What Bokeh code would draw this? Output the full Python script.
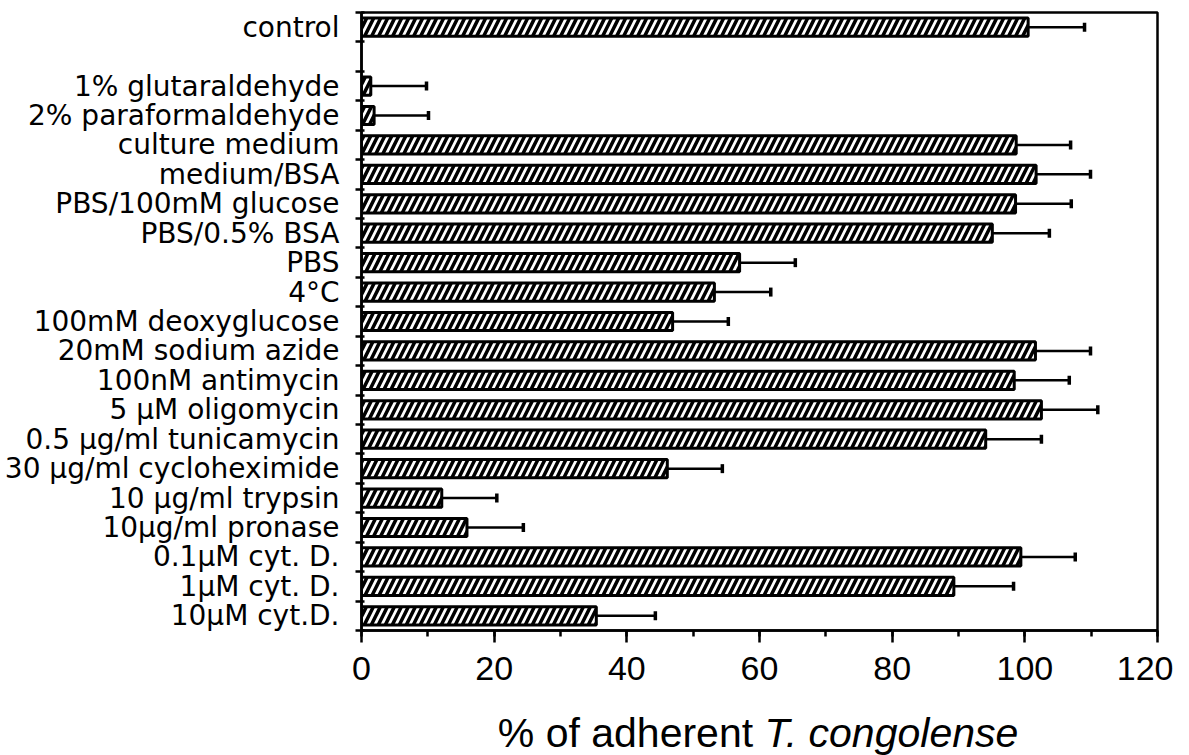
import math
from bokeh.plotting import figure
from bokeh.layouts import column
from bokeh.models import Range1d, FixedTicker, SingleIntervalTicker, Label, ColumnDataSource
from bokeh.embed import file_html
from bokeh.resources import INLINE

# ---- data ----
labels = ["control", "1% glutaraldehyde", "2% paraformaldehyde", "culture medium",
          "medium/BSA", "PBS/100mM glucose", "PBS/0.5% BSA", "PBS", "4°C",
          "100mM deoxyglucose", "20mM sodium azide", "100nM antimycin",
          "5 µM oligomycin", "0.5 µg/ml tunicamycin", "30 µg/ml cycloheximide",
          "10 µg/ml trypsin", "10µg/ml pronase", "0.1µM cyt. D.", "1µM cyt. D.",
          "10µM cyt.D."]
values = [100.5, 1.4, 1.9, 98.7, 101.7, 98.6, 95.1, 57.0, 53.2, 46.9,
          101.6, 98.4, 102.5, 94.1, 46.1, 12.1, 15.9, 99.4, 89.3, 35.4]
errors = [8.5, 8.4, 8.2, 8.2, 8.2, 8.4, 8.6, 8.4, 8.5, 8.4,
          8.3, 8.3, 8.5, 8.4, 8.3, 8.3, 8.5, 8.2, 9.0, 8.9]
gap_after = ["control"]          # an empty slot follows these categories
x_label_plain = "% of adherent "
x_label_italic = "T. congolense"
x_tick_step = 20
x_max = 120

# ---- slot layout (top to bottom) ----
slots = []
for lab in labels:
    slots.append(lab)
    if lab in gap_after:
        slots.append(None)
n = len(slots)
ypos = {lab: n - 1 - i for i, lab in enumerate(slots) if lab is not None}
ys = [ypos[l] for l in labels]
ends = [v + e for v, e in zip(values, errors)]

src = ColumnDataSource(dict(y=ys, v=values, e=ends, lab=labels))

W = 1173
H1, H2 = 700, 55
BL, BR, BT = 361, 16, 12
p = figure(width=W, height=H1, output_backend="svg", toolbar_location=None,
           x_range=Range1d(0, x_max), y_range=Range1d(-0.5, n - 0.5),
           min_border_left=BL, min_border_right=BR, min_border_top=BT,
           min_border_bottom=H1 - 630)
p.background_fill_color = "white"
p.border_fill_color = "white"
p.outline_line_color = "black"
p.outline_line_width = 2.5
p.xgrid.visible = False
p.ygrid.visible = False

# bars
p.hbar(y="y", right="v", left=0, height=0.62, source=src,
       fill_color="white", line_color="black", line_width=3,
       hatch_pattern="/", hatch_color="black", hatch_scale=14, hatch_weight=3.5)
# one-sided error bars
p.segment(x0="v", x1="e", y0="y", y1="y", source=src, line_color="black", line_width=2.5)
p.scatter(x="e", y="y", source=src, marker="dash", angle=math.pi / 2, size=9,
          line_color="black", line_width=3.5)

# y axis
ya = p.yaxis[0]
ya.ticker = FixedTicker(ticks=ys, minor_ticks=[k - 0.5 for k in range(n + 1)])
ya.major_label_overrides = {ypos[l]: l for l in labels}
ya.major_tick_out = 0
ya.major_tick_in = 0
ya.minor_tick_out = 6
ya.minor_tick_in = 3
ya.minor_tick_line_width = 2.5
ya.axis_line_width = 2.5
ya.major_label_standoff = 16
ya.major_label_text_font = "DejaVu Sans"
ya.major_label_text_font_size = "28px"
ya.major_label_text_color = "black"

# x axis
xa = p.xaxis[0]
xa.ticker = SingleIntervalTicker(interval=x_tick_step, num_minor_ticks=2)
xa.major_tick_out = 12
xa.major_tick_in = 0
xa.minor_tick_out = 6
xa.minor_tick_in = 0
xa.major_tick_line_width = 2.5
xa.minor_tick_line_width = 2.5
xa.axis_line_width = 2.5
xa.major_label_standoff = 14
xa.major_label_text_font = "Liberation Sans"
xa.major_label_text_font_size = "34px"
xa.major_label_text_color = "black"

# axis title (with italic species name) in a strip below
p2 = figure(width=W, height=H2, output_backend="svg", toolbar_location=None,
            x_range=p.x_range, y_range=Range1d(0, H2),
            x_axis_type=None, y_axis_type=None,
            min_border_left=BL, min_border_right=BR, min_border_top=0, min_border_bottom=0)
p2.outline_line_color = None
p2.xgrid.visible = False
p2.ygrid.visible = False
p2.background_fill_color = "white"
p2.border_fill_color = "white"

fs = "41px"
frame_w = W - BL - BR
split_x = frame_w / 2 + 5
base_y = 23
p2.add_layout(Label(x=split_x, y=base_y, x_units="screen", y_units="screen",
                    text=x_label_plain, text_align="right", text_baseline="alphabetic",
                    text_font="Liberation Sans", text_font_size=fs, text_color="black"))
p2.add_layout(Label(x=split_x, y=base_y, x_units="screen", y_units="screen",
                    text=x_label_italic, text_align="left", text_baseline="alphabetic",
                    text_font="Liberation Sans", text_font_size=fs, text_font_style="italic",
                    text_color="black"))

layout = column(p, p2, spacing=0)
open("out.html", "w").write(file_html(layout, INLINE))
